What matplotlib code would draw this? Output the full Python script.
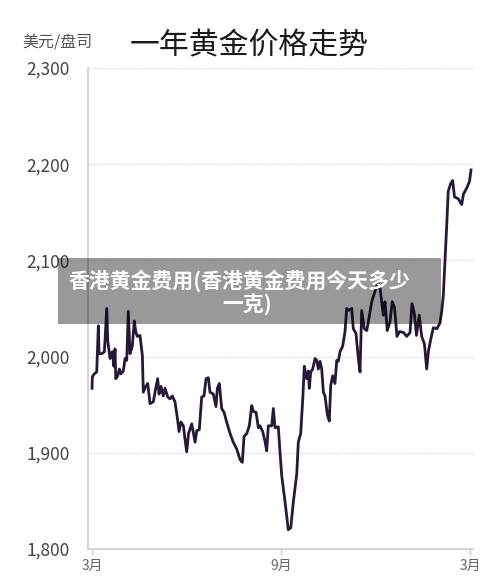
import numpy as np
import matplotlib.pyplot as plt
from matplotlib.patches import Rectangle

plt.rcParams['font.family'] = ['Noto Sans CJK SC', 'DejaVu Sans']

# days since 1 March, and gold price (USD / oz)
days = [0, 0.3, 2.2, 4.5, 6.1, 6.8, 9.4, 11.9, 14.2, 15.2, 17.4, 19.6, 21, 22.2, 22.9,
        24.8, 26.4, 28, 30.2, 31.9, 33.5, 35, 36.7, 38.9, 40.8, 42.2, 43.7, 46.3, 48.6,
        49.5, 51.9, 53.8, 56, 59.2, 61.5, 63.4, 64.7, 66.6, 68.8, 70.5, 73.1, 75.3, 77.5,
        80.1, 82.8, 84, 85.9, 88.2, 89.8, 91.4, 93.2, 96.3, 99.5, 101.1, 103.6, 105.9,
        108.1, 110.1, 112.3, 113.9, 117.1, 119.7, 121, 122.9, 125.2, 127.5, 130, 133.3,
        136.4, 139.7, 142.9, 145.1, 146.8, 149.4, 151.9, 154.2, 155.8, 158.4, 160.6,
        162.2, 164.8, 167, 168.7, 170.2, 173.5, 175.1, 176.7, 179.9, 181.5, 183.2, 186.4,
        189.5, 191.9, 194.4, 197.7, 199.2, 201.5, 203.5, 205, 207.3, 208.9, 209.8, 211.2,
        213.1, 215.3, 217, 218.5, 220.2, 221.8, 223.4, 225, 227.2, 229.1, 230.5, 232.4,
        234.6, 236.3, 237.8, 239.5, 242.1, 244.3, 245.9, 248.2, 250.8, 252.3, 254.9,
        257.2, 258.8, 260.4, 263, 265.3, 266.8, 270.1, 273.3, 276.2, 278.1, 279.7, 281.3,
        282.9, 285.1, 287.7, 289.9, 292.1, 294.5, 296.9, 300.8, 303.9, 307.1, 309, 311.2,
        313.3, 316, 318.3, 321, 323.2, 324.9, 327.3, 329.6, 333.1, 336, 337.7, 339.2,
        340.9, 342.5, 344, 346.4, 348.3, 350, 353.7, 357, 358.7, 361.8, 364.5, 366]
price = [1967, 1979, 1982, 1984, 2032, 2003, 2003, 2005, 2050, 2016, 1998, 2005, 1990, 2008,
         1977, 1980, 1987, 1982, 1985, 1998, 1996, 2047, 2003, 2011, 2037, 2026, 2021, 2022,
         2001, 1963, 1969, 1972, 1951, 1953, 1967, 1977, 1961, 1969, 1959, 1967, 1958, 1956,
         1959, 1953, 1933, 1922, 1932, 1928, 1914, 1901, 1920, 1930, 1911, 1923, 1924, 1958,
         1959, 1977, 1978, 1963, 1961, 1948, 1967, 1972, 1946, 1942, 1932, 1920, 1911, 1904,
         1893, 1890, 1917, 1920, 1928, 1949, 1943, 1942, 1926, 1928, 1922, 1912, 1902, 1928,
         1928, 1946, 1926, 1927, 1901, 1876, 1849, 1820, 1822, 1849, 1878, 1911, 1920, 1956,
         1990, 1977, 1985, 1967, 1984, 1987, 1998, 1996, 1987, 1995, 1987, 1963, 1959, 1940,
         1933, 1970, 1980, 1972, 1996, 1995, 2005, 2011, 2026, 2050, 2048, 2050, 2029, 2024,
         1998, 1984, 2048, 2029, 2027, 2036, 2057, 2068, 2077, 2071, 2057, 2043, 2057, 2027,
         2036, 2057, 2051, 2021, 2026, 2025, 2021, 2025, 2055, 2045, 2022, 2043, 2021, 2013,
         1987, 2006, 2019, 2030, 2029, 2035, 2047, 2063, 2100, 2136, 2172, 2180, 2183, 2166,
         2164, 2158, 2169, 2175, 2182, 2194]

x_ticks = [0, 182.5, 365]
x_labels = ['3月', '9月', '3月']
y_ticks = [1800, 1900, 2000, 2100, 2200, 2300]
y_labels = ['1,800', '1,900', '2,000', '2,100', '2,200', '2,300']

fig = plt.figure(figsize=(5, 5.84), dpi=100)
ax = fig.add_axes([0.176, 0.06, 0.77, 0.8236])

# dotted grid lines
for v in y_ticks[1:]:
    ax.axhline(v, color='#d8d8d8', lw=1, ls=(0, (1, 1)), zorder=1)

ax.plot(days, price, color='#281838', lw=2.0, zorder=3, solid_joinstyle='round')

ax.set_xlim(-3.9, 367.9)
ax.set_ylim(1800, 2300)
ax.set_xticks(x_ticks)
ax.set_xticklabels(x_labels, fontsize=10, color='#666666')
ax.set_yticks(y_ticks)
ax.set_yticklabels(y_labels, fontsize=12.5, color='#444444')
ax.tick_params(axis='y', length=0, pad=13)
ax.tick_params(axis='x', length=4, width=1, color='#cccccc', pad=3)

for s in ['top', 'right']:
    ax.spines[s].set_visible(False)
ax.spines['left'].set_color('#cccccc')
ax.spines['bottom'].set_color('#cccccc')
ax.spines['left'].set_linewidth(1.2)
ax.spines['bottom'].set_linewidth(1.2)

fig.text(0.044, 0.928, '美元/盘司', fontsize=11.5, color='#555555', ha='left', va='center',
         style='italic')
fig.text(0.498, 0.922, '一年黄金价格走势', fontsize=21.5, color='#1a1a1a', ha='center',
         va='center')

# grey caption banner on top
fig.add_artist(Rectangle((0.116, 0.4452), 0.766, 0.113, transform=fig.transFigure,
                         facecolor='black', alpha=0.4, edgecolor='none', zorder=10))
fig.text(0.478, 0.519, '香港黄金费用(香港黄金费用今天多少', fontsize=15, color='white',
         fontweight='bold', ha='center', va='center', zorder=11)
fig.text(0.494, 0.480, '一克)', fontsize=15, color='white', fontweight='bold',
         ha='center', va='center', zorder=11)

plt.savefig('out.png', dpi=100)
